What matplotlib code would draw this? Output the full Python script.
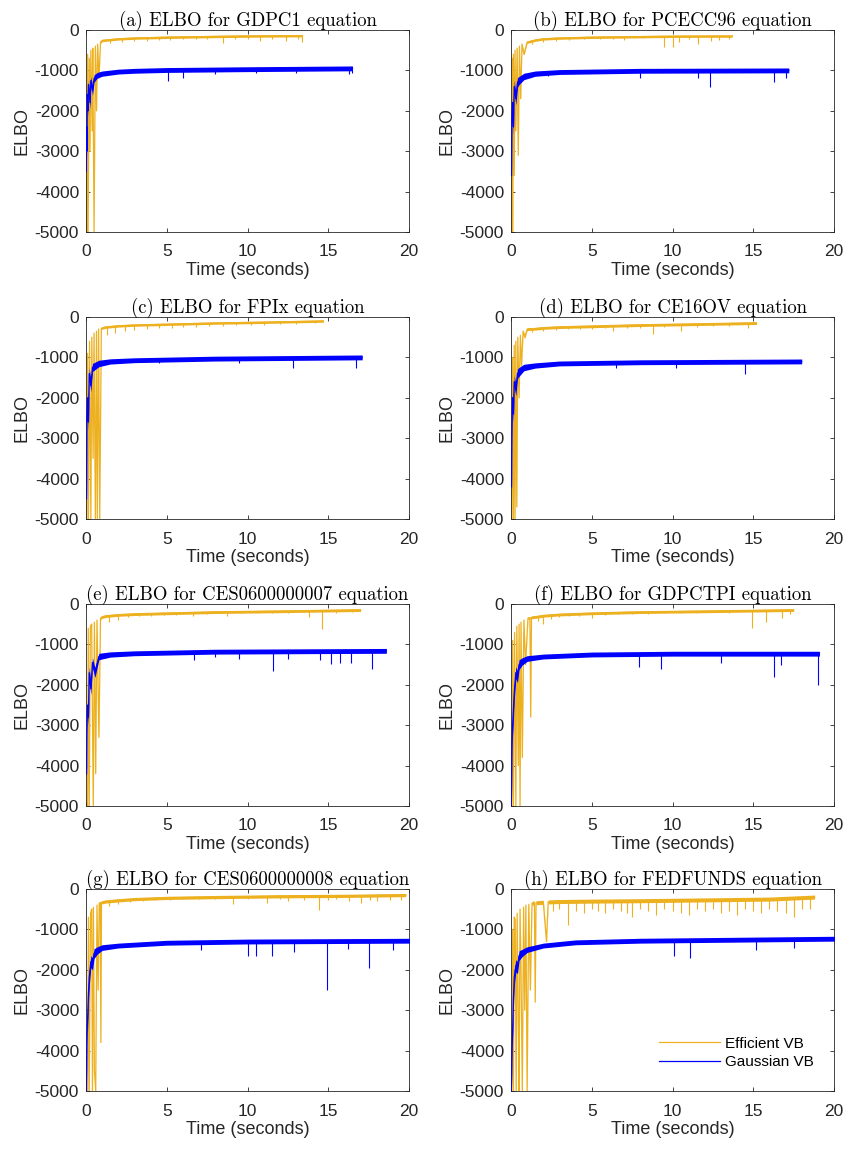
import numpy as np
import matplotlib
matplotlib.use("Agg")
import matplotlib.pyplot as plt

# ---------------- data ----------------
TITLES = ["(a) ELBO for GDPC1 equation", "(b) ELBO for PCECC96 equation",
          "(c) ELBO for FPIx equation", "(d) ELBO for CE16OV equation",
          "(e) ELBO for CES0600000007 equation", "(f) ELBO for GDPCTPI equation",
          "(g) ELBO for CES0600000008 equation", "(h) ELBO for FEDFUNDS equation"]
X_TICKS = [0, 5, 10, 15, 20]
Y_TICKS = [-5000, -4000, -3000, -2000, -1000, 0]
SERIES_NAMES = ["Efficient VB", "Gaussian VB"]

# Efficient VB traces (time, ELBO) with noise amplitude, and downward spikes
EFF_T_A = [0.05, 0.1, 0.13, 0.2, 0.25, 0.3, 0.38, 0.42, 0.5, 0.58, 0.65, 0.72, 0.8, 0.9, 1.0, 1.5, 2, 3, 5, 8, 10, 13.4]
EFF_Y_A = [-5000, -600, -5000, -700, -3000, -500, -2500, -450, -5000, -400, -2000, -350, -1200, -300, -260, -240, -220, -200, -180, -160, -150, -140]
EFF_SPK_T_A = [1.5, 2.2, 3.0, 3.8, 4.5, 5.2, 6.0, 6.8, 7.5, 8.5, 9.2, 10.0, 10.8, 11.5, 12.4, 13.1, 13.4]
EFF_SPK_Y_A = [-330, -300, -280, -260, -250, -240, -230, -220, -220, -310, -220, -230, -260, -220, -280, -220, -290]

EFF_T_B = [0.05, 0.08, 0.1, 0.15, 0.2, 0.25, 0.3, 0.38, 0.45, 0.52, 0.6, 0.68, 0.8, 1.0, 1.5, 2, 3, 5, 8, 10, 13.7]
EFF_Y_B = [-5000, -700, -5000, -600, -3600, -500, -2500, -450, -3100, -400, -1700, -350, -600, -300, -250, -220, -200, -180, -165, -155, -150]
EFF_SPK_T_B = [1.3, 2.0, 2.8, 3.6, 4.5, 5.5, 6.3, 7.0, 8.2, 9.5, 10.0, 10.4, 11.0, 11.6, 12.4, 12.9, 13.5]
EFF_SPK_Y_B = [-350, -300, -260, -240, -230, -220, -220, -240, -210, -420, -430, -300, -220, -350, -280, -240, -230]

EFF_T_C = [0.05, 0.1, 0.15, 0.22, 0.3, 0.36, 0.44, 0.5, 0.58, 0.65, 0.7, 0.78, 0.85, 0.95, 1.2, 2, 3, 5, 8, 11, 14.7]
EFF_Y_C = [-5000, -900, -5000, -600, -5000, -500, -3500, -400, -5000, -350, -5000, -300, -5000, -280, -250, -220, -200, -180, -150, -130, -100]
EFF_SPK_T_C = [1.3, 1.8, 2.4, 3.0, 3.8, 4.5, 5.3, 6.0, 6.8, 7.6, 8.5, 9.3, 10.2, 11.0, 12.0, 13.0, 14.2]
EFF_SPK_Y_C = [-450, -400, -350, -320, -300, -280, -260, -250, -240, -230, -220, -200, -200, -190, -180, -170, -160]

EFF_T_D = [0.05, 0.1, 0.15, 0.2, 0.25, 0.3, 0.36, 0.42, 0.5, 0.58, 0.65, 0.75, 0.85, 1.0, 1.5, 2, 3, 5, 8, 11, 15.2]
EFF_Y_D = [-5000, -1000, -5000, -700, -5000, -600, -4700, -500, -2000, -450, -1200, -350, -500, -300, -290, -270, -250, -230, -200, -180, -150]
EFF_SPK_T_D = [1.3, 2.0, 2.8, 3.5, 4.3, 5.0, 5.8, 6.3, 7.2, 8.0, 8.8, 9.5, 10.5, 11.5, 12.5, 13.5, 14.7]
EFF_SPK_Y_D = [-380, -340, -320, -300, -290, -300, -280, -350, -260, -260, -420, -250, -350, -240, -230, -220, -260]

EFF_T_E = [0.05, 0.1, 0.14, 0.2, 0.27, 0.35, 0.45, 0.52, 0.6, 0.68, 0.8, 0.9, 1.0, 1.2, 2, 3, 5, 8, 12, 17.0]
EFF_Y_E = [-5000, -5000, -600, -5000, -550, -500, -5000, -450, -4200, -400, -3300, -350, -320, -300, -270, -250, -230, -200, -180, -150]
EFF_SPK_T_E = [1.4, 2.0, 2.6, 3.3, 4.0, 4.8, 5.6, 6.6, 7.5, 8.7, 9.6, 10.6, 11.5, 12.5, 13.8, 14.6, 15.5, 16.5]
EFF_SPK_Y_E = [-450, -400, -330, -300, -290, -280, -260, -300, -240, -300, -230, -220, -220, -220, -320, -620, -220, -210]

EFF_T_F = [0.05, 0.1, 0.15, 0.22, 0.3, 0.36, 0.45, 0.5, 0.56, 0.62, 0.7, 0.8, 0.9, 1.05, 1.17, 1.22, 1.27, 1.5, 2, 3, 5, 8, 12, 17.5]
EFF_Y_F = [-5000, -900, -5000, -700, -5000, -550, -4000, -500, -5000, -450, -3800, -400, -1500, -350, -340, -2800, -330, -320, -290, -260, -230, -200, -180, -150]
EFF_SPK_T_F = [1.7, 2.0, 2.5, 3.0, 3.6, 4.2, 5.0, 5.8, 6.6, 7.5, 8.5, 9.5, 10.5, 11.5, 12.5, 13.5, 14.9, 15.8, 16.8, 17.3]
EFF_SPK_Y_F = [-420, -500, -360, -320, -300, -290, -350, -260, -250, -240, -240, -230, -220, -220, -210, -220, -600, -450, -350, -250]

EFF_T_G = [0.05, 0.1, 0.15, 0.2, 0.28, 0.35, 0.4, 0.46, 0.52, 0.6, 0.68, 0.75, 0.82, 0.88, 0.92, 0.96, 1.2, 2, 3, 5, 8, 12, 16, 19.8]
EFF_Y_G = [-5000, -5000, -700, -5000, -600, -500, -5000, -450, -4500, -5000, -400, -2500, -350, -340, -3800, -330, -310, -280, -250, -220, -200, -180, -170, -150]
EFF_SPK_T_G = [1.4, 2.0, 2.7, 3.5, 4.3, 5.2, 6.0, 7.0, 8.0, 9.1, 10.0, 11.2, 12.0, 12.5, 13.5, 14.4, 15.0, 15.5, 16.3, 17.0, 17.6, 18.0, 18.8, 19.5]
EFF_SPK_Y_G = [-420, -360, -320, -300, -280, -260, -250, -240, -240, -380, -240, -350, -250, -300, -280, -520, -260, -250, -300, -350, -280, -300, -260, -280]

EFF_T_H = [0.05, 0.1, 0.15, 0.2, 0.26, 0.32, 0.38, 0.45, 0.5, 0.56, 0.62, 0.7, 0.78, 0.85, 0.92, 1.0, 1.1, 1.2, 1.3, 1.45, 1.5, 1.55, 2.0, 2.2, 2.3, 3, 5, 8, 12, 16, 18.8]
EFF_Y_H = [-5000, -1000, -5000, -700, -800, -5000, -600, -3200, -5000, -500, -2000, -5000, -450, -3000, -400, -5000, -380, -2500, -350, -350, -2800, -340, -330, -1300, -320, -310, -300, -290, -270, -250, -200]
EFF_SPK_T_H = [2.6, 3.0, 3.5, 4.0, 4.5, 5.0, 5.4, 5.8, 6.3, 6.8, 7.2, 7.5, 8.0, 8.5, 9.0, 9.5, 10.0, 10.5, 11.0, 11.5, 12.0, 12.5, 13.0, 13.5, 14.0, 14.5, 15.0, 15.5, 16.0, 16.5, 17.0, 17.5, 18.0, 18.5]
EFF_SPK_Y_H = [-550, -500, -900, -550, -600, -500, -550, -600, -500, -550, -600, -700, -500, -550, -650, -500, -550, -600, -650, -500, -550, -500, -600, -550, -650, -500, -550, -600, -500, -550, -600, -700, -500, -500]

EFF_NOISE = [30, 30, 30, 35, 35, 35, 40, 50]

# Gaussian VB traces (time, ELBO), noise half-width per point, and spikes
GAU_T_A = [0.02, 0.04, 0.06, 0.08, 0.12, 0.15, 0.25, 0.3, 0.4, 0.5, 0.7, 1, 2, 3, 5, 10, 16.5]
GAU_Y_A = [-3500, -2400, -3000, -1600, -2000, -1350, -1800, -1250, -1500, -1200, -1120, -1080, -1030, -1010, -990, -970, -950]
GAU_W_A = [100, 150, 150, 150, 150, 120, 150, 100, 120, 90, 70, 65, 60, 60, 60, 60, 60]
GAU_SPK_T_A = [5.1, 6.0, 8.0, 10.5, 13.0, 16.3, 16.5]
GAU_SPK_Y_A = [-1270, -1200, -1080, -1070, -1060, -1100, -1060]

GAU_T_B = [0.03, 0.06, 0.1, 0.15, 0.2, 0.3, 0.4, 0.5, 0.8, 1.5, 3, 8, 17.2]
GAU_Y_B = [-3600, -2200, -1800, -2400, -1400, -1700, -1300, -1250, -1150, -1080, -1040, -1010, -1000]
GAU_W_B = [150, 200, 200, 200, 150, 150, 120, 100, 80, 65, 60, 60, 60]
GAU_SPK_T_B = [2.3, 8.0, 11.6, 12.3, 16.3, 17.0]
GAU_SPK_Y_B = [-1150, -1180, -1200, -1400, -1280, -1200]

GAU_T_C = [0.03, 0.06, 0.1, 0.15, 0.2, 0.3, 0.4, 0.6, 0.8, 1.5, 3, 8, 17.1]
GAU_Y_C = [-4500, -2500, -2000, -2600, -1400, -1700, -1250, -1200, -1150, -1100, -1070, -1030, -1000]
GAU_W_C = [150, 200, 200, 200, 150, 150, 100, 90, 80, 65, 60, 60, 60]
GAU_SPK_T_C = [4.5, 9.5, 12.8, 16.7]
GAU_SPK_Y_C = [-1150, -1150, -1250, -1250]

GAU_T_D = [0.03, 0.06, 0.1, 0.15, 0.2, 0.3, 0.4, 0.6, 0.8, 1.5, 3, 8, 18.0]
GAU_Y_D = [-4200, -2800, -2000, -2400, -1600, -1800, -1400, -1320, -1250, -1200, -1150, -1120, -1100]
GAU_W_D = [150, 200, 200, 200, 150, 150, 120, 100, 80, 65, 60, 60, 60]
GAU_SPK_T_D = [6.5, 10.2, 14.5]
GAU_SPK_Y_D = [-1250, -1250, -1400]

GAU_T_E = [0.03, 0.06, 0.1, 0.15, 0.2, 0.3, 0.4, 0.55, 0.8, 1.5, 3, 8, 18.6]
GAU_Y_E = [-4200, -3000, -2500, -2800, -1700, -2100, -1450, -1700, -1300, -1250, -1220, -1180, -1160]
GAU_W_E = [150, 200, 200, 200, 150, 150, 120, 120, 80, 65, 60, 60, 60]
GAU_SPK_T_E = [6.7, 8.0, 9.5, 11.6, 12.5, 14.5, 15.2, 15.7, 16.4, 17.7]
GAU_SPK_Y_E = [-1380, -1300, -1350, -1650, -1350, -1380, -1480, -1450, -1450, -1600]

GAU_T_F = [0.02, 0.06, 0.1, 0.15, 0.2, 0.3, 0.4, 0.5, 0.7, 1, 2, 5, 10, 19.1]
GAU_Y_F = [-5000, -3500, -3000, -2600, -2200, -1700, -1800, -1500, -1420, -1350, -1300, -1250, -1230, -1230]
GAU_W_F = [150, 250, 250, 250, 200, 150, 150, 120, 90, 70, 60, 60, 60, 60]
GAU_SPK_T_F = [7.9, 9.3, 13.0, 16.3, 16.7, 19.0]
GAU_SPK_Y_F = [-1550, -1600, -1450, -1800, -1500, -2000]

GAU_T_G = [0.02, 0.06, 0.1, 0.15, 0.2, 0.3, 0.4, 0.5, 0.7, 1, 2, 5, 10, 20.1]
GAU_Y_G = [-5000, -3600, -3200, -2600, -2200, -1800, -1850, -1600, -1520, -1450, -1400, -1330, -1300, -1280]
GAU_W_G = [150, 250, 250, 250, 200, 150, 150, 120, 90, 70, 60, 60, 60, 60]
GAU_SPK_T_G = [7.1, 10.0, 10.5, 11.5, 12.9, 14.9, 16.2, 17.5, 19.0]
GAU_SPK_Y_G = [-1500, -1650, -1650, -1650, -1550, -2500, -1480, -1950, -1500]

GAU_T_H = [0.02, 0.06, 0.1, 0.15, 0.2, 0.3, 0.4, 0.5, 0.7, 1, 2, 4, 8, 20.1]
GAU_Y_H = [-5000, -4000, -3500, -2700, -2200, -1900, -1950, -1650, -1580, -1500, -1400, -1320, -1280, -1230]
GAU_W_H = [150, 250, 250, 250, 200, 150, 150, 120, 90, 70, 60, 60, 60, 60]
GAU_SPK_T_H = [10.1, 11.1, 15.2, 17.5]
GAU_SPK_Y_H = [-1650, -1700, -1500, -1450]

EFF_DATA = [(EFF_T_A, EFF_Y_A, EFF_SPK_T_A, EFF_SPK_Y_A), (EFF_T_B, EFF_Y_B, EFF_SPK_T_B, EFF_SPK_Y_B),
            (EFF_T_C, EFF_Y_C, EFF_SPK_T_C, EFF_SPK_Y_C), (EFF_T_D, EFF_Y_D, EFF_SPK_T_D, EFF_SPK_Y_D),
            (EFF_T_E, EFF_Y_E, EFF_SPK_T_E, EFF_SPK_Y_E), (EFF_T_F, EFF_Y_F, EFF_SPK_T_F, EFF_SPK_Y_F),
            (EFF_T_G, EFF_Y_G, EFF_SPK_T_G, EFF_SPK_Y_G), (EFF_T_H, EFF_Y_H, EFF_SPK_T_H, EFF_SPK_Y_H)]
GAU_DATA = [(GAU_T_A, GAU_Y_A, GAU_W_A, GAU_SPK_T_A, GAU_SPK_Y_A), (GAU_T_B, GAU_Y_B, GAU_W_B, GAU_SPK_T_B, GAU_SPK_Y_B),
            (GAU_T_C, GAU_Y_C, GAU_W_C, GAU_SPK_T_C, GAU_SPK_Y_C), (GAU_T_D, GAU_Y_D, GAU_W_D, GAU_SPK_T_D, GAU_SPK_Y_D),
            (GAU_T_E, GAU_Y_E, GAU_W_E, GAU_SPK_T_E, GAU_SPK_Y_E), (GAU_T_F, GAU_Y_F, GAU_W_F, GAU_SPK_T_F, GAU_SPK_Y_F),
            (GAU_T_G, GAU_Y_G, GAU_W_G, GAU_SPK_T_G, GAU_SPK_Y_G), (GAU_T_H, GAU_Y_H, GAU_W_H, GAU_SPK_T_H, GAU_SPK_Y_H)]

# ---------------- styling / layout ----------------
ORANGE = "#EDB120"
BLUE = "#0000FF"
AXC = "#262626"
plt.rcParams["font.family"] = ["Liberation Sans", "DejaVu Sans"]
plt.rcParams["axes.unicode_minus"] = False

fig = plt.figure(figsize=(8.46, 11.51), dpi=100)
lefts = [86 / 846, 511 / 846]
width = 323 / 846
height = 202 / 1151
bottoms = [1 - 232 / 1151, 1 - 519 / 1151, 1 - 806 / 1151, 1 - 1091 / 1151]

for i in range(8):
    r, c = divmod(i, 2)
    ax = fig.add_axes([lefts[c], bottoms[r], width, height])
    et, ey, est, esy = EFF_DATA[i]
    gt, gy, gw, gst, gsy = GAU_DATA[i]
    et = np.array(et); ey = np.array(ey)
    gt = np.array(gt); gy = np.array(gy); gw = np.array(gw)

    # Efficient VB
    n = EFF_NOISE[i]
    ax.fill_between(et, ey - n, ey + n, color=ORANGE, lw=0, zorder=2)
    ax.plot(et, ey, color=ORANGE, lw=0.9, zorder=2, label=SERIES_NAMES[0])
    est = np.array(est)
    ax.vlines(est, esy, np.interp(est, et, ey), color=ORANGE, lw=0.8, zorder=2)

    # Gaussian VB
    ax.fill_between(gt, gy - gw, gy + gw, color=BLUE, lw=0, zorder=3)
    ax.plot(gt, gy, color=BLUE, lw=0.9, zorder=3, label=SERIES_NAMES[1])
    gst = np.array(gst)
    ax.vlines(gst, gsy, np.interp(gst, gt, gy), color=BLUE, lw=0.8, zorder=3)

    ax.set_xlim(0, 20)
    ax.set_ylim(-5000, 0)
    ax.set_xticks(X_TICKS)
    ax.set_yticks(Y_TICKS)
    ax.tick_params(direction="in", top=True, right=True, length=3, width=0.6,
                   colors=AXC, labelsize=12.5)
    ax.tick_params(axis="x", pad=9)
    ax.tick_params(axis="y", pad=5)
    for s in ax.spines.values():
        s.set_color(AXC)
        s.set_linewidth(0.6)
    ax.set_xlabel("Time (seconds)", fontsize=13, color=AXC, labelpad=2)
    ax.set_ylabel("ELBO", fontsize=13, color=AXC, labelpad=3)
    ax.set_title(TITLES[i], fontsize=13.5, family="cmr10", pad=3)

    if i == 7:
        ax.legend(loc="lower right", bbox_to_anchor=(0.98, 0.04), frameon=False,
                  handlelength=4.0, fontsize=11, labelspacing=0.3, handletextpad=0.3)

fig.savefig("out.png", dpi=100)
